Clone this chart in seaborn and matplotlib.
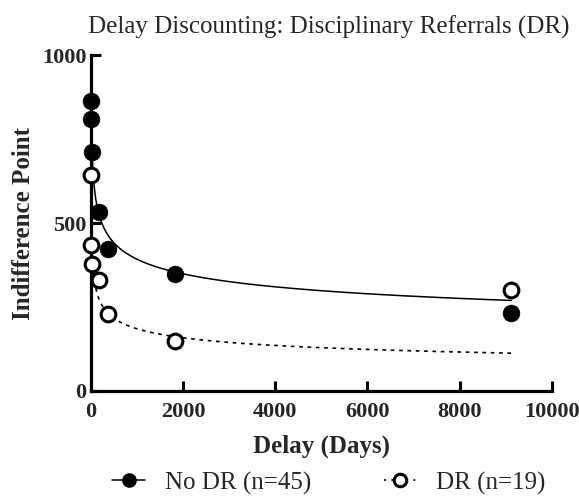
import numpy as np
import pandas as pd
import matplotlib
matplotlib.use("Agg")
import matplotlib.pyplot as plt
from matplotlib.lines import Line2D
import seaborn as sns

# Delays (days) and mean indifference points for each group
delays = [1, 7, 30, 183, 365, 1825, 9125]
no_dr_values = [863, 811, 710, 532, 422, 347, 231]
dr_values = [643, 435, 377, 330, 228, 149, 302]

groups = ["No DR (n=45)", "DR (n=19)"]

# Hyperboloid model V = A / (1 + k*D)^s fitted for each group
amount = 1000
no_dr_fit = (0.245, 0.17)   # (k, s)
dr_fit = (1.8, 0.225)       # (k, s)

sns.set_style("ticks")
plt.rcParams["font.family"] = ["Liberation Serif", "DejaVu Serif"]
plt.rcParams["mathtext.fontset"] = "stix"

fig = plt.figure(figsize=(5.79, 4.96), dpi=100)
ax = fig.add_axes([0.157, 0.2117, 0.796, 0.6773])

points = pd.DataFrame({
    "Delay": delays * 2,
    "Value": no_dr_values + dr_values,
    "Group": [groups[0]] * len(delays) + [groups[1]] * len(delays),
})

grid = np.concatenate([np.linspace(0, 50, 400), np.linspace(50, delays[-1], 1600)])


def hyperboloid(d, k, s):
    return amount / (1.0 + k * d) ** s


curves = pd.DataFrame({
    "Delay": np.concatenate([grid, grid]),
    "Value": np.concatenate([hyperboloid(grid, *no_dr_fit), hyperboloid(grid, *dr_fit)]),
    "Group": [groups[0]] * len(grid) + [groups[1]] * len(grid),
})

sns.lineplot(data=curves[curves.Group == groups[0]], x="Delay", y="Value",
             color="black", lw=1.1, ax=ax, legend=False, zorder=2)
sns.lineplot(data=curves[curves.Group == groups[1]], x="Delay", y="Value",
             color="black", lw=1.2, linestyle=(0, (2.2, 2.8)), ax=ax,
             legend=False, zorder=2)

sns.scatterplot(data=points[points.Group == groups[0]], x="Delay", y="Value",
                color="black", edgecolor="black", s=145, linewidth=0.5,
                ax=ax, legend=False, zorder=4, clip_on=False)
sns.scatterplot(data=points[points.Group == groups[1]], x="Delay", y="Value",
                facecolor="white", edgecolor="black", s=112, linewidth=2.2,
                ax=ax, legend=False, zorder=5, clip_on=False)

ax.set_xlim(0, 10000)
ax.set_ylim(0, 1000)
ax.set_xticks([0, 2000, 4000, 6000, 8000, 10000])
ax.set_yticks([0, 500, 1000])
for side in ["top", "right"]:
    ax.spines[side].set_visible(False)
for side in ["left", "bottom"]:
    ax.spines[side].set_linewidth(2.3)
    ax.spines[side].set_color("black")
ax.tick_params(direction="in", length=7.5, width=2.2, color="black",
               labelsize=16)
ax.tick_params(axis="x", pad=8)
ax.tick_params(axis="y", pad=3)
for lab in ax.get_xticklabels() + ax.get_yticklabels():
    lab.set_fontweight("bold")

ax.set_xlabel("Delay (Days)", fontsize=18, fontweight="bold", labelpad=9)
ax.set_ylabel("Indifference Point", fontsize=18, fontweight="bold", labelpad=5)
ax.set_title("Delay Discounting: Disciplinary Referrals (DR)", fontsize=18,
             x=0.516, pad=15.5)

handles = [
    Line2D([], [], color="black", lw=1.1, marker="o", markersize=9.5,
           markerfacecolor="black", markeredgecolor="black"),
    Line2D([], [], color="black", lw=1.2, linestyle=(0, (1.2, 3.2)), marker="o",
           markersize=9, markerfacecolor="white", markeredgecolor="black",
           markeredgewidth=2.2),
]
fig.legend(handles, groups, loc="center", bbox_to_anchor=(0.568, 0.026),
           ncol=2, frameon=False, fontsize=18, handlelength=1.3,
           columnspacing=2.9, handletextpad=0.8, borderpad=0.1)

fig.savefig("out.png", dpi=100)
